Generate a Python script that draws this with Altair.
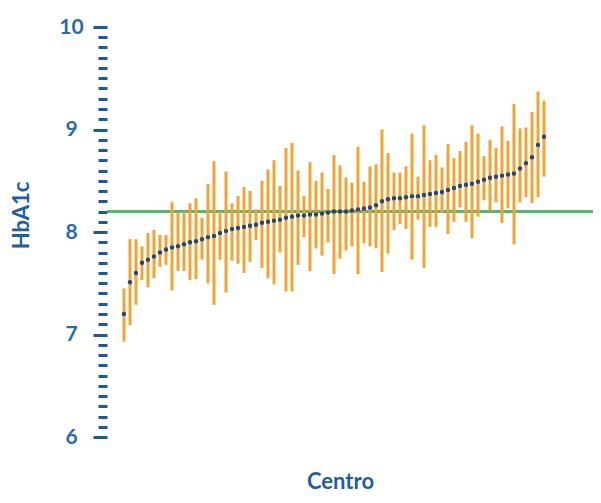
import altair as alt
import pandas as pd

# Centres sorted by mean HbA1c
centro = list(range(1, 72))
media = [7.20, 7.51, 7.60, 7.70, 7.73, 7.76, 7.80, 7.83, 7.85, 7.86,
         7.88, 7.90, 7.91, 7.93, 7.95, 7.96, 7.99, 8.01, 8.03, 8.04,
         8.05, 8.06, 8.07, 8.09, 8.10, 8.11, 8.12, 8.14, 8.15, 8.16,
         8.16, 8.17, 8.17, 8.18, 8.19, 8.20, 8.20, 8.20, 8.21, 8.22,
         8.23, 8.24, 8.26, 8.30, 8.32, 8.33, 8.33, 8.34, 8.35, 8.35,
         8.36, 8.37, 8.38, 8.39, 8.41, 8.43, 8.45, 8.46, 8.47, 8.49,
         8.51, 8.53, 8.54, 8.55, 8.56, 8.57, 8.62, 8.67, 8.73, 8.85,
         8.93]
alto = [7.45, 7.93, 7.93, 7.86, 7.99, 8.02, 7.97, 7.97, 8.29, 8.19,
        8.20, 8.28, 8.33, 8.14, 8.47, 8.69, 8.20, 8.59, 8.28, 8.35,
        8.44, 8.40, 8.22, 8.50, 8.61, 8.70, 8.45, 8.82, 8.87, 8.60,
        8.35, 8.68, 8.50, 8.58, 8.42, 8.75, 8.65, 8.53, 8.48, 8.83,
        8.49, 8.64, 8.66, 9.00, 8.77, 8.58, 8.58, 8.64, 8.96, 8.54,
        9.04, 8.70, 8.75, 8.63, 8.86, 8.72, 8.79, 8.88, 9.04, 8.96,
        8.74, 8.90, 8.82, 9.03, 8.89, 9.25, 9.01, 9.02, 9.17, 9.37,
        9.28]
bajo = [6.93, 7.09, 7.29, 7.53, 7.46, 7.55, 7.66, 7.68, 7.43, 7.62,
        7.62, 7.53, 7.54, 7.73, 7.50, 7.29, 7.73, 7.41, 7.72, 7.69,
        7.60, 7.71, 7.92, 7.65, 7.55, 7.49, 7.80, 7.42, 7.42, 7.68,
        7.95, 7.62, 7.84, 7.77, 7.90, 7.59, 7.74, 7.82, 7.86, 7.59,
        7.89, 7.86, 7.84, 7.61, 7.79, 8.02, 8.08, 8.03, 7.73, 8.12,
        7.65, 8.05, 8.05, 8.19, 7.98, 8.10, 8.24, 8.10, 7.94, 8.15,
        8.31, 8.21, 8.29, 8.09, 8.23, 7.88, 8.29, 8.34, 8.28, 8.34,
        8.54]
referencia = [8.2]

df = pd.DataFrame({"Centro": centro, "media": media, "alto": alto, "bajo": bajo})
ref = pd.DataFrame({"ref": referencia})

ytick_values = [round(6 + 0.1 * k, 1) for k in range(41)]
is_int = "abs(datum.value - round(datum.value)) < 0.01"

blue = "#1D5EA6"
xscale = alt.Scale(domain=[-1.83, 79.17], nice=False, zero=False)
yscale = alt.Scale(domain=[6, 10], nice=False, zero=False)

xaxis = alt.Axis(title="Centro", labels=False, ticks=False, domain=False, grid=False,
                 titleFont="Lato", titleFontSize=22, titleFontWeight="bold",
                 titleColor=blue, titleX=233, titleY=51, titleAlign="center",
                 titleBaseline="alphabetic")
yaxis = alt.Axis(title="HbA1c", values=ytick_values, tickCount=100,
                 domain=False, grid=False,
                 labelExpr=f"{is_int} ? format(datum.value, 'd') : ''",
                 labelOverlap=False, labelFlush=False,
                 labelAlign="center", labelBaseline="middle",
                 labelFont="Lato", labelFontSize=21, labelFontWeight="bold",
                 labelColor="#2A6BAE", labelPadding=22,
                 tickColor="#1C5A99", tickWidth=3,
                 tickSize={"condition": {"test": is_int, "value": 14}, "value": 9},
                 titleFont="Lato", titleFontSize=22, titleFontWeight="bold",
                 titleColor=blue, titleX=-74, titleY=188, titleAlign="center")

base = alt.Chart(df)

green = alt.Chart(ref).mark_rule(color="#52B86E", strokeWidth=3).encode(
    y=alt.Y("ref:Q", scale=yscale, axis=yaxis)
)

bars = base.mark_rule(color="#F5A232", strokeWidth=3).encode(
    x=alt.X("Centro:Q", scale=xscale, axis=xaxis),
    y=alt.Y("bajo:Q", scale=yscale, axis=yaxis),
    y2="alto:Q",
)

points = base.mark_point(filled=True, size=20, color="#2B4766", opacity=1).encode(
    x=alt.X("Centro:Q", scale=xscale),
    y=alt.Y("media:Q", scale=yscale),
)

chart = alt.layer(green, bars, points).properties(
    width=486, height=410,
    autosize=alt.AutoSizeParams(type="none"),
    padding={"left": 99, "top": 19, "right": 0, "bottom": 58},
    background="white",
).configure_view(stroke=None)

chart.save("out.html", embed_options={"renderer": "svg", "actions": False})
